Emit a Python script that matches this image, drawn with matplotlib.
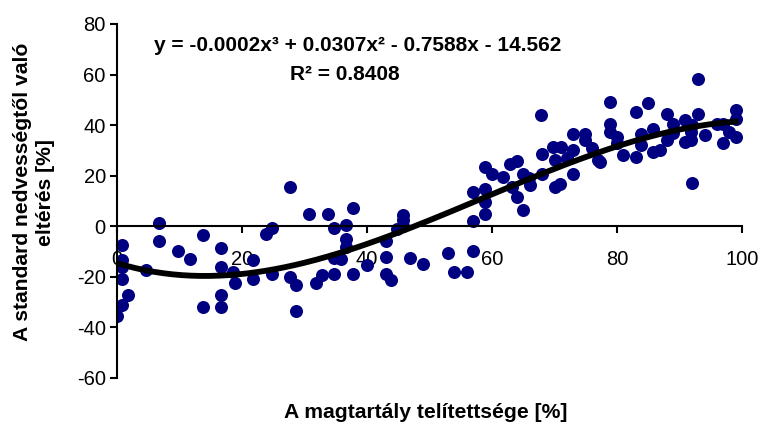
import numpy as np
import matplotlib
matplotlib.use('Agg')
import matplotlib.pyplot as plt

plt.rcParams['font.family'] = ['Liberation Sans', 'DejaVu Sans']
plt.rcParams['axes.unicode_minus'] = False

# measured points (saturation %, deviation %)
sat = [0, 0.75, 1.7, 0.75, 0.75, 0.75, 0.75, 4.7, 6.7, 6.7,
       9.7, 11.7, 13.7, 13.7, 16.7, 16.7, 16.7, 16.7, 18.6, 18.9,
       21.7, 21.7, 23.8, 24.8, 24.8, 27.7, 27.7, 28.7, 28.7, 30.8,
       31.8, 32.8, 33.8, 34.8, 34.8, 34.8, 35.9, 36.7, 36.7, 36.7,
       37.8, 37.8, 40, 43, 43, 43, 43.8, 44.8, 45.8, 45.8,
       45.8, 46.9, 48.9, 52.9, 53.9, 56, 56.9, 56.9, 56.9, 58.9,
       58.9, 58.9, 58.9, 60, 61.8, 62.9, 64, 65, 63.2, 64,
       64.9, 66.1, 67.8, 68, 68, 69.8, 70.1, 70.1, 70.9, 71.1,
       73, 73, 73, 74.9, 74.9, 77, 78.9, 78.9, 78.9, 80,
       81, 83, 83, 83.9, 83.9, 85, 85.8, 85.8, 86.9, 88,
       88, 89, 90.9, 90.9, 91.9, 91.9, 93, 93, 92, 94.1,
       96, 97, 97, 98, 99, 99, 99, 77.3, 66, 72,
       76, 80, 89, 92]
dev = [-35.4, -31.2, -27.3, -20.7, -16.1, -13.4, -7.5, -17.4, 1.1, -5.8,
       -9.8, -12.8, -3.3, -32.1, -8.6, -16.1, -27.3, -32.1, -18, -22.4,
       -13.4, -20.7, -2.9, -0.5, -19, 15.5, -20, -23.3, -33.5, 4.7,
       -22.3, -19.4, 4.7, -0.5, -12.4, -18.7, -12.8, 0.4, -4.9, -8,
       7.4, -19, -15.4, -5.8, -12.1, -18.7, -21.3, -1.2, 4.6, 2.4,
       0.2, -12.4, -14.8, -10.4, -18, -18, -9.9, 2, 13.6, 23.4,
       14.9, 9.6, 5, 20.8, 19.5, 24.8, 26, 20.8, 15.5, 11.6,
       6.3, 16.2, 43.9, 28.7, 20.8, 31.3, 26.1, 15.5, 16.9, 31.3,
       36.6, 30, 20.8, 36.6, 34, 26.1, 49.1, 40.6, 37.3, 35.3,
       28.1, 45.2, 27.2, 36.6, 32, 48.7, 38.6, 29.4, 30, 44.5,
       34, 40.6, 41.9, 33.3, 37.3, 34, 44.5, 58.1, 17.1, 36,
       40.6, 40.6, 32.9, 37.3, 45.8, 42.6, 35.3, 25.4, 19, 27,
       31, 33, 37, 40]

# cubic trendline coefficients (highest power first)
trend = [-0.000175, 0.0307, -0.7588, -14.562]
eq_text = 'y = -0.0002x\u00b3 + 0.0307x\u00b2 - 0.7588x - 14.562'
r2_text = 'R\u00b2 = 0.8408'

fig = plt.figure(figsize=(7.61, 4.26), dpi=100)
ax = fig.add_axes([0.1537, 0.1127, 0.8213, 0.831])

ax.scatter(sat, dev, s=88, color='#000080', zorder=2, linewidths=0)
xs = np.linspace(0, 99, 200)
ax.plot(xs, np.polyval(trend, xs), color='black', lw=4.2, zorder=3)

ax.set_xlim(0, 100)
ax.set_ylim(-60, 80)
ax.set_xticks(range(0, 101, 20))
ax.set_yticks(range(-60, 81, 20))

ax.spines['top'].set_visible(False)
ax.spines['right'].set_visible(False)
ax.spines['bottom'].set_position(('data', 0))
ax.spines['left'].set_linewidth(1.5)
ax.spines['bottom'].set_linewidth(1.5)
ax.tick_params(axis='y', direction='out', length=5, width=1.5, pad=3, labelsize=14.5)
ax.tick_params(axis='x', direction='out', length=5, width=1.5, pad=12, labelsize=14.5)

fig.text(0.470, 0.894, eq_text, ha='center', va='center',
         fontsize=15, fontweight='bold')
fig.text(0.453, 0.824, r2_text, ha='center', va='center',
         fontsize=15, fontweight='bold')

fig.text(0.560, 0.031, 'A magtartály telítettsége [%]', ha='center', va='center',
         fontsize=15.2, fontweight='bold')
fig.text(0.045, 0.549, 'A standard nedvességtől való\neltérés [%]', ha='center', va='center',
         rotation=90, fontsize=15.2, fontweight='bold', linespacing=1.3)

fig.savefig('out.png', dpi=100)
